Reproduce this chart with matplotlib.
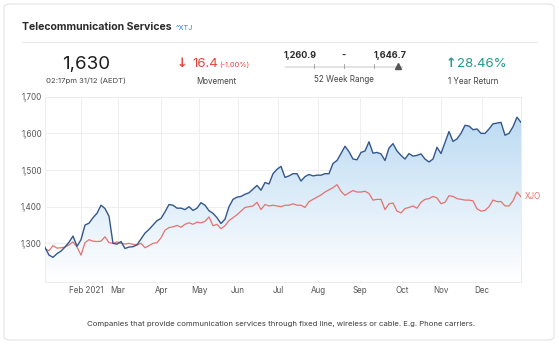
import numpy as np
import matplotlib
matplotlib.use("Agg")
import matplotlib.pyplot as plt
from matplotlib.patches import FancyBboxPatch, Polygon, Rectangle
from matplotlib.lines import Line2D
from matplotlib.colors import LinearSegmentedColormap
import matplotlib.transforms as mtransforms

plt.rcParams['font.family'] = ['Inter', 'DejaVu Sans']

# ---------------- data ----------------
xtj = [1289, 1268, 1262, 1272, 1279, 1290, 1303, 1320, 1292, 1310,
       1350, 1355, 1370, 1382, 1404, 1395, 1374, 1300, 1298, 1305,
       1286, 1290, 1291, 1296, 1312, 1328, 1338, 1350, 1362, 1368,
       1386, 1406, 1404, 1396, 1396, 1392, 1400, 1390, 1396, 1411,
       1404, 1389, 1382, 1370, 1354, 1366, 1400, 1420, 1426, 1428,
       1434, 1438, 1448, 1458, 1445, 1466, 1462, 1490, 1502, 1510,
       1480, 1484, 1490, 1490, 1470, 1482, 1488, 1484, 1486, 1486,
       1490, 1490, 1518, 1526, 1545, 1565, 1550, 1530, 1528, 1548,
       1552, 1577, 1546, 1548, 1544, 1526, 1560, 1572, 1552, 1540,
       1530, 1545, 1538, 1540, 1544, 1530, 1522, 1530, 1562, 1545,
       1575, 1605, 1578, 1585, 1600, 1622, 1620, 1610, 1612, 1600,
       1600, 1612, 1626, 1628, 1630, 1595, 1600, 1618, 1644, 1630]

xjo = [1285, 1280, 1294, 1287, 1288, 1290, 1296, 1304, 1290, 1268,
       1302, 1310, 1306, 1305, 1306, 1318, 1302, 1300, 1304, 1300,
       1298, 1300, 1297, 1296, 1300, 1288, 1294, 1300, 1302, 1315,
       1336, 1343, 1345, 1349, 1344, 1352, 1356, 1352, 1358, 1356,
       1360, 1372, 1348, 1352, 1340, 1348, 1362, 1370, 1378, 1388,
       1398, 1400, 1402, 1412, 1392, 1406, 1402, 1404, 1402, 1400,
       1404, 1404, 1408, 1404, 1404, 1398, 1414, 1420, 1426, 1432,
       1440, 1446, 1452, 1460, 1442, 1431, 1438, 1444, 1440, 1440,
       1442, 1436, 1418, 1420, 1420, 1392, 1408, 1410, 1388, 1383,
       1395, 1398, 1402, 1396, 1412, 1420, 1422, 1428, 1424, 1408,
       1412, 1430, 1428, 1422, 1420, 1418, 1418, 1416, 1394, 1388,
       1390, 1400, 1418, 1414, 1414, 1402, 1402, 1416, 1440, 1427]

month_labels = ['Feb 2021', 'Mar', 'Apr', 'May', 'Jun', 'Jul', 'Aug',
                'Sep', 'Oct', 'Nov', 'Dec']
month_pos = [9.0, 18.25, 29.0, 38.5, 48.25, 58.25, 68.25, 78.75, 89.25,
             99.0, 109.25]
y_ticks = [1300, 1400, 1500, 1600, 1700]
y_labels = ['1,300', '1,400', '1,500', '1,600', '1,700']

W, H = 559, 346
fig = plt.figure(figsize=(W / 100, H / 100), dpi=100)
fig.patch.set_facecolor('white')


def T(x, y, s, **kw):
    kw.setdefault('va', 'center')
    return fig.text(x / W, 1 - y / H, s, **kw)


# card
card = FancyBboxPatch((4 / W, 1 - 340 / H), 550 / W, 336 / H,
                      boxstyle="round,pad=0,rounding_size=0.012",
                      transform=fig.transFigure, facecolor='white',
                      edgecolor='#e3e3e3', lw=0.8, zorder=-10)
fig.patches.append(card)

# header
T(22, 27.5, 'Telecommunication Services', fontsize=7.6, fontweight='bold',
  color='#2b2b2b', ha='left')
T(176, 27.5, '^XTJ', fontsize=5.3, color='#2f7fd8', ha='left')
fig.add_artist(Line2D([22 / W, 537 / W], [1 - 41.7 / H, 1 - 41.7 / H],
                      transform=fig.transFigure, color='#e8e8e8', lw=0.8))

T(86, 64, '1,630', fontsize=13.5, color='#1e1e1e', ha='center')
T(86, 81, '02:17pm 31/12 (AEDT)', fontsize=5.6, color='#444444', ha='center')

T(181.5, 63.5, '↓', fontsize=9, color='#e2443a', ha='center',
  family=['DejaVu Sans'], fontweight='bold')
T(192, 64, '16.4', fontsize=9.5, color='#e2443a', ha='left')
T(219.5, 64.5, '(-1.00%)', fontsize=5.3, color='#e2443a', ha='left')
T(216, 81.5, 'Movement', fontsize=5.8, color='#444444', ha='center')

T(300, 55.5, '1,260.9', fontsize=6.5, fontweight='bold', color='#2b2b2b',
  ha='center')
T(344, 55.5, '-', fontsize=6.5, fontweight='bold', color='#2b2b2b',
  ha='center')
T(390, 55.5, '1,646.7', fontsize=6.5, fontweight='bold', color='#2b2b2b',
  ha='center')
fig.patches.append(Rectangle((285 / W, 1 - 68.3 / H), 118 / W, 2.6 / H,
                             transform=fig.transFigure, facecolor='#e2e2e2',
                             edgecolor='none'))
for tx in (314, 344, 374):
    fig.add_artist(Line2D([tx / W, tx / W], [1 - 68.3 / H, 1 - 63.8 / H],
                          transform=fig.transFigure, color='#9a9a9a', lw=0.6))
fig.add_artist(Line2D([398 / W], [1 - 65.6 / H], marker='^', markersize=4,
                      color='#555555', transform=fig.transFigure, lw=0))
T(344, 79.5, '52 Week Range', fontsize=5.8, color='#444444', ha='center')

T(451, 63.5, '↑', fontsize=9, color='#23998a', ha='center',
  family=['DejaVu Sans'], fontweight='bold')
T(457, 64, '28.46%', fontsize=9.5, color='#23998a', ha='left')
T(473.5, 82, '1 Year Return', fontsize=5.8, color='#444444', ha='center')

T(281, 324, 'Companies that provide communication services through fixed '
  'line, wireless or cable. E.g. Phone carriers.', fontsize=5.6,
  color='#3a3a3a', ha='center')

# ---------------- chart ----------------
ax = fig.add_axes([45 / W, 1 - 281.5 / H, 476 / W, (281.5 - 96.7) / H])
ax.set_facecolor('none')
n = len(xtj)
x = np.arange(n)
y0, y1 = 1196, 1700
ax.set_xlim(0, n - 1)
ax.set_ylim(y0, y1)

cmap = LinearSegmentedColormap.from_list('g', ['#ffffff', '#b4d6f1'])
grad = np.linspace(0, 1, 256).reshape(-1, 1)
im = ax.imshow(grad, extent=[0, n - 1, y0, y1], origin='lower',
               aspect='auto', cmap=cmap, zorder=1)
verts = np.column_stack([np.r_[x, x[::-1]],
                         np.r_[np.array(xtj, float), np.full(n, y0)]])
poly = Polygon(verts, closed=True, facecolor='none', edgecolor='none',
               transform=ax.transData)
ax.add_patch(poly)
im.set_clip_path(poly)

ax.plot(x, xjo, color='#e6716f', lw=0.9, zorder=3)
ax.plot(x, xtj, color='#34578c', lw=1.0, zorder=4)
ax.annotate('XJO', xy=(x[-1], xjo[-1]), xytext=(2.5, 0),
            textcoords='offset points', fontsize=5.8, color='#e6716f',
            va='center', ha='left', annotation_clip=False)

ax.set_yticks(y_ticks)
ax.set_yticklabels(y_labels)
ax.set_xticks(month_pos)
ax.set_xticklabels(month_labels)
ax.grid(True, color='#efefef', lw=0.7, zorder=0)
ax.set_axisbelow(True)
for s in ax.spines.values():
    s.set_color('#ececec')
    s.set_linewidth(0.7)
ax.tick_params(length=0, labelsize=5.8, labelcolor='#555555', pad=2.2)
ax.tick_params(axis='x', pad=3.5)
lbl = ax.get_xticklabels()[0]
lbl.set_transform(lbl.get_transform() +
                  mtransforms.ScaledTranslation(5 / 100, 0, fig.dpi_scale_trans))

fig.savefig('out.png', dpi=100, facecolor='white')
